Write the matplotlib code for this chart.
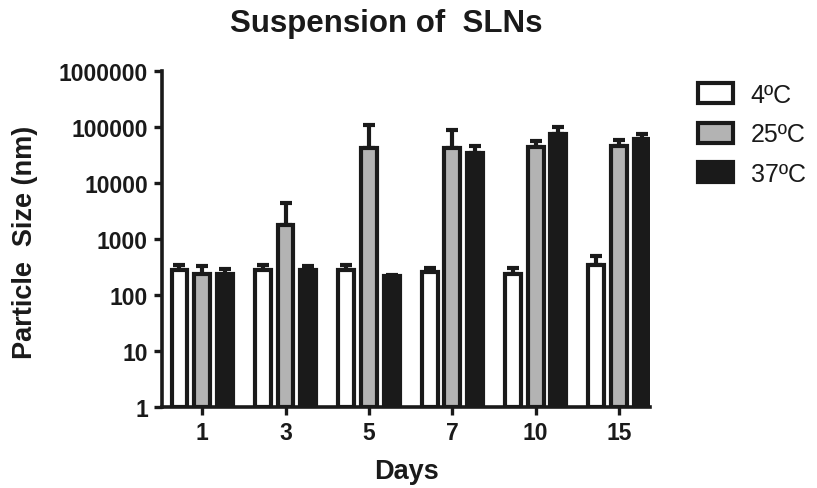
import numpy as np
import matplotlib.pyplot as plt

plt.rcParams['font.family'] = ['Liberation Sans', 'DejaVu Sans']

days = ['1', '3', '5', '7', '10', '15']
labels = ['4ºC', '25ºC', '37ºC']

# mean particle size (nm) and upper error
size_4 = [274, 274, 274, 256, 239, 336]
err_4 = [62, 72, 72, 50, 67, 152]
size_25 = [230, 1750, 41500, 42700, 44500, 45700]
err_25 = [98, 2670, 67100, 45600, 11500, 12100]
size_37 = [230, 274, 215, 33800, 74000, 61000]
err_37 = [55, 54, 8, 11900, 24000, 15000]

colors = ['white', '#b3b3b3', '#1a1a1a']
ink = '#1a1a1a'

fig = plt.figure(figsize=(8.17, 4.89), dpi=100)
ax = fig.add_axes([0.198, 0.166, 0.598, 0.687])

x = np.arange(len(days))
pitch = 0.272
width = 0.19
series = [(size_4, err_4), (size_25, err_25), (size_37, err_37)]

for k, (vals, errs) in enumerate(series):
    pos = x + (k - 1) * pitch
    ax.errorbar(pos, vals, yerr=[np.zeros(len(vals)), errs], fmt='none',
                ecolor=ink, elinewidth=3, capsize=4, capthick=3, zorder=2)
    ax.bar(pos, vals, width=width, bottom=1, color=colors[k], edgecolor=ink,
           linewidth=3, label=labels[k], zorder=3)

ax.set_yscale('log')
ax.set_ylim(1, 1000000)
ax.set_yticks([1, 10, 100, 1000, 10000, 100000, 1000000])
ax.set_yticklabels(['1', '10', '100', '1000', '10000', '100000', '1000000'])
ax.minorticks_off()
ax.set_xlim(-0.484, 5.375)
ax.set_xticks(x)
ax.set_xticklabels(days)

for s in ['top', 'right']:
    ax.spines[s].set_visible(False)
for s in ['left', 'bottom']:
    ax.spines[s].set_linewidth(2.6)
    ax.spines[s].set_color(ink)

ax.tick_params(axis='both', width=2.4, length=6, color=ink, labelsize=16.5, pad=4)
for t in ax.get_xticklabels() + ax.get_yticklabels():
    t.set_fontweight('bold')
    t.set_color(ink)

fig.text(406 / 817, 1 - 472 / 489, 'Days', fontsize=19.5, fontweight='bold',
         color=ink, ha='center', va='center')
fig.text(25 / 817, 1 - 242 / 489, 'Particle  Size (nm)', fontsize=19.5, fontweight='bold',
         color=ink, ha='center', va='center', rotation=90)
fig.text(386 / 817, 1 - 24 / 489, 'Suspension of  SLNs', fontsize=22.5, fontweight='bold',
         color=ink, ha='center', va='center')

leg = ax.legend(loc='upper left', bbox_to_anchor=(698 / 817, 1 - 84 / 489),
                bbox_transform=fig.transFigure, frameon=False, fontsize=18,
                borderpad=0, borderaxespad=0,
                handlelength=1.4, handleheight=0.85, handletextpad=0.7, labelspacing=0.62)
for t in leg.get_texts():
    t.set_color(ink)

fig.savefig('out.png', dpi=100)
